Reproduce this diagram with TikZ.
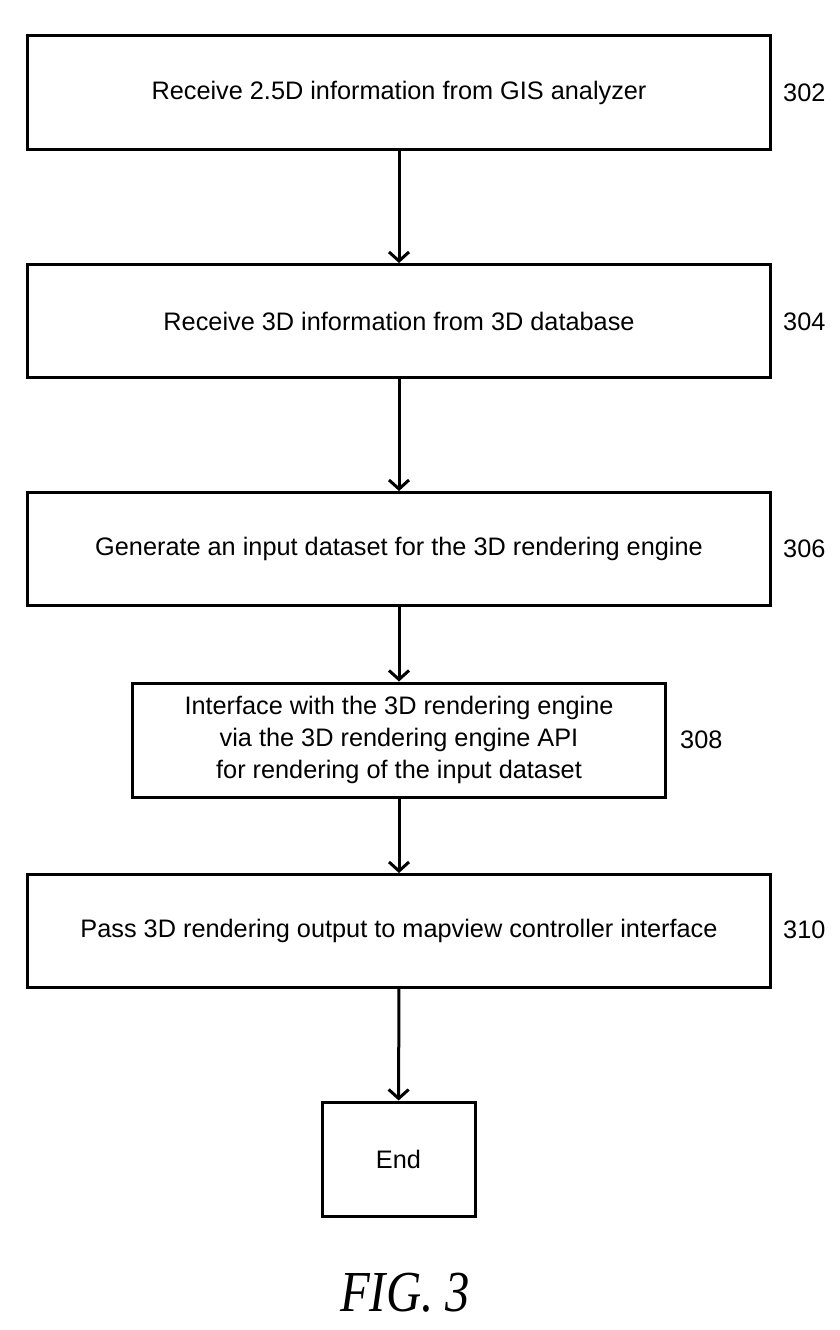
\documentclass[tikz,border=0pt]{standalone}
\usepackage{fontspec}
\setmainfont{Liberation Sans}
\newfontfamily\figfont{Liberation Serif}
\usetikzlibrary{arrows.meta}
\begin{document}
\begin{tikzpicture}[x=1pt,y=-1pt,
  stepbox/.style={draw,line width=3pt,inner sep=0pt,align=center,font=\fontsize{25.3}{32}\selectfont},
  wide/.style={stepbox,minimum width=743pt,minimum height=113pt},
  lbl/.style={anchor=west,inner sep=0pt,font=\fontsize{25.3}{30}\selectfont},
  flow/.style={line width=3pt,-{Straight Barb[length=9pt,width=20pt,line width=3pt]}}]
\useasboundingbox (0,0) rectangle (840,1330);
\node[wide] (b302) at (399,92.5) {Receive 2.5D information from GIS analyzer};
\node[wide] (b304) at (399,321) {Receive 3D information from 3D database};
\node[wide] (b306) at (399,549) {Generate an input dataset for the 3D rendering engine};
\node[stepbox,minimum width=533pt,minimum height=114pt] (b308) at (399,740) {Interface with the 3D rendering engine\\via the 3D rendering engine API\\for rendering of the input dataset};
\node[wide] (b310) at (399,931) {Pass 3D rendering output to mapview controller interface};
\node[stepbox,minimum width=153pt,minimum height=114pt] (end) at (398.5,1159) {End};
\node[lbl] (l302) at (783,93) {302};
\node[lbl] (l304) at (783,322) {304};
\node[lbl] (l306) at (783,549) {306};
\node[lbl] (l308) at (680,740) {308};
\node[lbl] (l310) at (783,930) {310};
\node[inner sep=0pt] (fig) at (405,1293) {\scalebox{0.84}[1]{\figfont\itshape\fontsize{58}{58}\selectfont FIG. 3}};
\draw[flow] (b302) -- (b304);
\draw[flow] (b304) -- (b306);
\draw[flow] (b306) -- (b308);
\draw[flow] (b308) -- (b310);
\draw[flow] (b310) -- (end);
\end{tikzpicture}
\end{document}
